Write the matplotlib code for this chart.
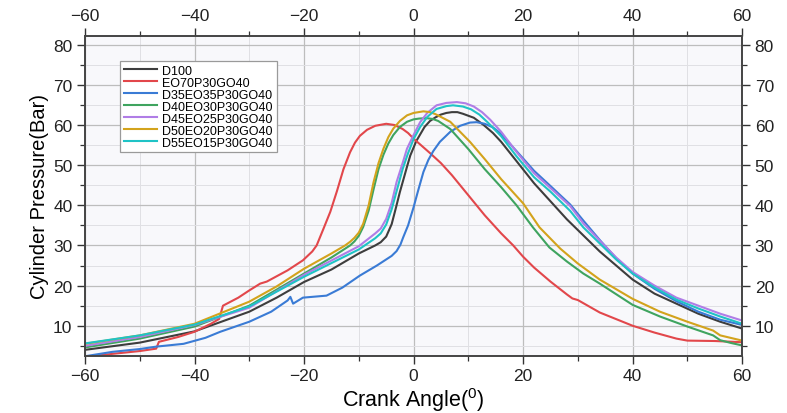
import matplotlib
matplotlib.use("Agg")
import matplotlib.pyplot as plt
from matplotlib.ticker import MultipleLocator

plt.rcParams['font.family'] = ['Liberation Sans', 'DejaVu Sans']
plt.rcParams['mathtext.fontset'] = 'custom'
plt.rcParams['mathtext.rm'] = 'Liberation Sans'
plt.rcParams['mathtext.it'] = 'Liberation Sans'

# ---------------- data ----------------
labels = ["D100", "EO70P30GO40", "D35EO35P30GO40", "D40EO30P30GO40",
          "D45EO25P30GO40", "D50EO20P30GO40", "D55EO15P30GO40"]
colors = ["#3d3d3d", "#e2474b", "#3a7bd5", "#3fa45f", "#b07de6", "#d3a31c", "#1fc3c6"]

d100_x = [-60, -50, -40, -30, -25, -20, -15, -10, -7, -6, -5, -4, -3.2, -2.5, -1.9, -1.2, -0.6, 0.5, 2, 3,
          4, 5, 6, 7, 8, 9, 11, 12.8, 14.5, 16, 18.8, 22, 25, 28, 31, 34, 37, 40, 44, 48, 52, 56, 60]
d100_y = [4.0, 5.8, 8.6, 13.5, 17.0, 20.9, 24.0, 28.0, 30.0, 30.8, 32.2, 35.3, 39.5, 43.3, 46.2, 49.6, 52.4,
          56.0, 59.5, 61.0, 61.9, 62.6, 63.0, 63.2, 63.2, 62.8, 61.8, 60.0, 58.0, 55.8, 51.0, 45.5, 41.0,
          36.5, 32.5, 28.5, 25.0, 21.5, 18.0, 15.5, 13.0, 11.0, 9.3]

eo70_x = [-60, -55, -50, -47, -46.5, -43, -40, -37, -35.5, -34.8, -32, -30, -28, -26.8, -23, -20.2, -18.5,
          -17.7, -16.5, -15.2, -14, -12.8, -11.6, -10.7, -9.8, -8.5, -7, -5, -3.5, -2, -1, 0, 1.5, 3, 5,
          7, 10, 13, 16, 18.2, 20, 22, 25, 28, 29, 30, 34, 40, 44, 48, 50, 55, 60]
eo70_y = [2.2, 3.0, 3.7, 4.3, 6.0, 7.2, 8.5, 10.5, 11.7, 15.0, 17.0, 18.8, 20.5, 21.0, 23.8, 26.3, 28.5,
          30.0, 34.0, 38.4, 43.5, 49.0, 53.2, 55.6, 57.3, 58.8, 59.8, 60.3, 60.0, 59.0, 58.0, 56.6, 54.8,
          53.0, 50.5, 47.5, 42.5, 37.5, 33.0, 30.0, 27.2, 24.5, 21.0, 17.8, 16.8, 16.4, 13.3, 10.0, 8.3,
          6.8, 6.3, 6.2, 5.9]

d35_x = [-60, -55, -50, -47, -42, -38, -35.3, -30, -26, -23, -22.5, -22, -20.2, -15.9, -13, -9.8, -6.7, -4,
         -3.1, -2.4, -1.9, -1, 0, 0.8, 1.8, 2.7, 3.6, 4.8, 6.7, 8.5, 10.3, 11.5, 13, 14.5, 15.8, 18.8, 22,
         25, 28.6, 31, 34.1, 37, 40, 44, 48, 52, 56, 60]
d35_y = [2.4, 3.5, 4.2, 4.8, 5.5, 7.0, 8.5, 11.0, 13.5, 16.3, 17.2, 15.5, 17.0, 17.5, 19.5, 22.5, 25.0, 27.4,
         28.6, 30.2, 32.0, 35.0, 39.5, 43.5, 48.3, 51.3, 53.5, 55.8, 58.3, 59.8, 60.6, 60.7, 60.3, 59.4,
         58.0, 53.5, 48.6, 44.8, 40.2, 36.2, 31.2, 26.8, 23.0, 19.2, 16.1, 13.5, 11.5, 10.2]

d40_x = [-60, -50, -40, -30, -25, -20, -15, -12.5, -11.6, -10.8, -10, -9.2, -8.2, -7.3, -6.4, -5.5, -4.6,
         -3.7, -2.5, -1.2, 0, 1, 2.4, 3.5, 4.5, 6.7, 10, 13, 16, 18.8, 21.8, 24.8, 28, 31, 34, 40, 45, 50,
         54.7, 56, 58, 60]
d40_y = [4.6, 6.8, 9.8, 15.0, 19.0, 23.0, 27.0, 29.2, 30.0, 31.0, 32.4, 34.6, 38.7, 44.0, 49.0, 52.6, 55.4,
         57.5, 59.5, 60.8, 61.4, 61.6, 61.7, 61.5, 61.0, 59.0, 54.0, 49.0, 44.5, 40.0, 34.5, 29.5, 26.0,
         23.0, 20.5, 15.2, 12.3, 9.8, 7.6, 6.4, 5.7, 5.1]

d45_x = [-60, -50, -40, -30, -20, -10, -7, -6, -5, -4, -3.1, -2, -1.2, 0, 1.2, 2.5, 4.2, 6, 7.9, 9.5, 11,
         12.5, 14, 16, 18.8, 22, 25, 28.6, 31, 34, 37, 40, 44, 48, 52, 56, 60]
d45_y = [5.0, 7.2, 10.2, 14.5, 22.7, 29.8, 33.0, 34.2, 36.6, 40.6, 45.8, 50.5, 54.1, 57.5, 60.7, 63.0, 64.9,
         65.5, 65.7, 65.4, 64.6, 63.2, 61.3, 58.3, 53.3, 48.0, 44.3, 39.8, 35.5, 31.2, 27.0, 23.4, 20.0,
         17.0, 15.0, 13.0, 11.3]

d50_x = [-60, -50, -40, -30, -25, -20, -15, -12.5, -11.6, -10.8, -10, -9.2, -8.2, -7.3, -6.4, -5.5, -4.6,
         -3.7, -2.5, -1.2, 0, 1.8, 3, 4, 6.7, 10.3, 13, 16, 20, 23, 26.8, 30, 34, 40, 45, 50, 54.7, 56, 60]
d50_y = [5.5, 7.6, 10.5, 16.0, 19.8, 24.2, 28.0, 30.0, 30.9, 31.9, 33.2, 35.4, 40.0, 45.8, 50.5, 54.1, 57.0,
         59.1, 61.0, 62.4, 63.0, 63.4, 63.2, 62.7, 60.8, 55.8, 51.5, 46.5, 40.5, 34.5, 29.2, 25.5, 21.5,
         16.7, 13.5, 11.0, 8.8, 7.6, 6.3]

d55_x = [-60, -50, -40, -30, -20, -10, -7, -6, -5, -4, -3, -2, -1, 0, 1.2, 2.5, 4.2, 6, 7.2, 9, 10.5, 12,
         13.5, 16, 18.8, 22, 25, 28.6, 31, 34, 37, 40, 44, 48, 52, 56, 60]
d55_y = [5.6, 7.6, 10.3, 14.8, 22.2, 29.0, 31.8, 33.0, 35.2, 39.0, 44.0, 49.0, 53.0, 56.5, 59.5, 62.0, 64.0,
         64.7, 64.9, 64.6, 63.9, 62.6, 60.7, 57.2, 52.2, 47.0, 43.4, 38.6, 34.5, 30.5, 26.5, 23.0, 19.5,
         16.5, 14.3, 12.3, 10.5]

series_x = [d100_x, eo70_x, d35_x, d40_x, d45_x, d50_x, d55_x]
series_y = [d100_y, eo70_y, d35_y, d40_y, d45_y, d50_y, d55_y]

x_ticks = [-60, -40, -20, 0, 20, 40, 60]
y_ticks = [10, 20, 30, 40, 50, 60, 70, 80]

# ---------------- figure ----------------
fig = plt.figure(figsize=(7.87, 4.14), dpi=100)
ax = fig.add_axes([0.108, 0.138, 0.835, 0.773])
ax.set_facecolor("#f8f8fb")

for xs, ys, c, lab in zip(series_x, series_y, colors, labels):
    ax.plot(xs, ys, color=c, lw=1.5, label=lab, solid_joinstyle="round")

ax.set_xlim(-60, 60)
ax.set_ylim(2.5, 82.2)
ax.set_xticks(x_ticks)
ax.set_yticks(y_ticks)
ax.xaxis.set_minor_locator(MultipleLocator(10))
ax.yaxis.set_minor_locator(MultipleLocator(5))

ax.grid(which="major", color="#bdbdbd", lw=0.9)
ax.grid(which="minor", color="#e0e0e4", lw=0.7)
ax.set_axisbelow(True)

ax.tick_params(which="both", direction="out", top=True, right=True,
               labeltop=True, labelright=True, colors="#333333", labelcolor="#222222")
ax.tick_params(which="major", length=6, width=1.0, labelsize=12.5, pad=3)
ax.tick_params(which="minor", length=3.5, width=0.9)
for s in ax.spines.values():
    s.set_color("#444444")
    s.set_linewidth(1.4)

ax.set_xlabel("Crank Angle($^{0}$)", fontsize=15.5, labelpad=1)
ax.set_ylabel("Cylinder Pressure(Bar)", fontsize=14.5, labelpad=3)

leg = ax.legend(loc="upper left", bbox_to_anchor=(0.053, 0.922), borderaxespad=0,
                fontsize=9, handlelength=2.65, handletextpad=0.45, labelspacing=0.0,
                borderpad=0.3, frameon=True, fancybox=False)
leg.get_frame().set_edgecolor("#9a9a9a")
leg.get_frame().set_linewidth(0.9)
leg.get_frame().set_facecolor("white")
leg.get_frame().set_alpha(1)

fig.savefig("out.png", dpi=100)
